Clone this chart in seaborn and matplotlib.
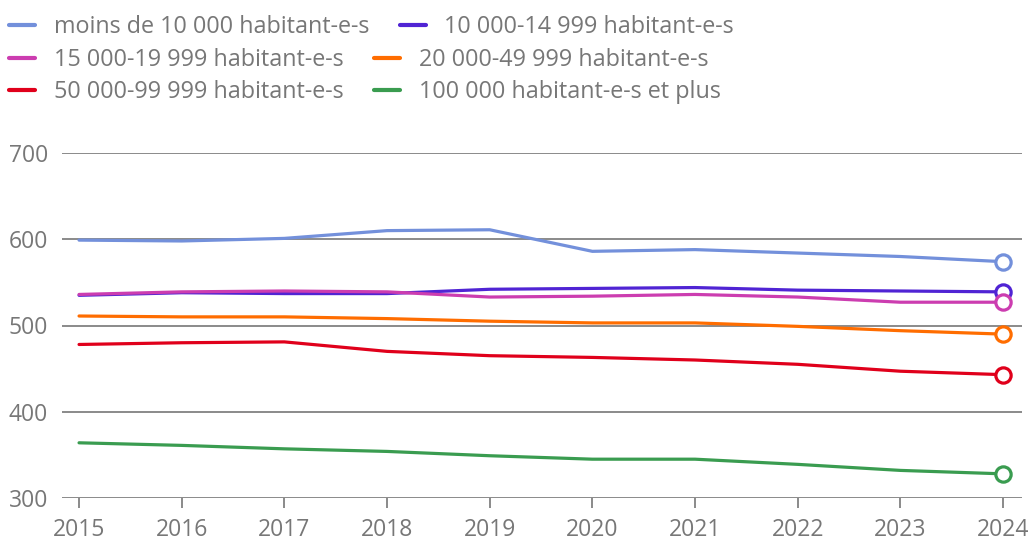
import matplotlib.pyplot as plt
import matplotlib.lines as mlines
import seaborn as sns
import pandas as pd

# Données
annees = [2015, 2016, 2017, 2018, 2019, 2020, 2021, 2022, 2023, 2024]
categories = [
    "moins de 10 000 habitant-e-s",
    "10 000-14 999 habitant-e-s",
    "15 000-19 999 habitant-e-s",
    "20 000-49 999 habitant-e-s",
    "50 000-99 999 habitant-e-s",
    "100 000 habitant-e-s et plus",
]
moins_10000 = [599, 598, 601, 610, 611, 586, 588, 584, 580, 574]
de_10000_14999 = [535, 538, 537, 537, 542, 543, 544, 541, 540, 539]
de_15000_19999 = [536, 539, 540, 539, 533, 534, 536, 533, 527, 527]
de_20000_49999 = [511, 510, 510, 508, 505, 503, 503, 499, 494, 490]
de_50000_99999 = [478, 480, 481, 470, 465, 463, 460, 455, 447, 443]
plus_100000 = [364, 361, 357, 354, 349, 345, 345, 339, 332, 328]
couleurs = ["#7390db", "#5024d4", "#cc3db0", "#ff6d00", "#e0001b", "#3a9c50"]

series = [moins_10000, de_10000_14999, de_15000_19999,
          de_20000_49999, de_50000_99999, plus_100000]

rows = []
for cat, vals in zip(categories, series):
    for a, v in zip(annees, vals):
        rows.append({"annee": a, "valeur": v, "categorie": cat})
df = pd.DataFrame(rows)

sns.set_theme(style="white")
plt.rcParams["font.family"] = ["Open Sans", "DejaVu Sans"]
gris = "#777777"

fig = plt.figure(figsize=(10.32, 5.41), dpi=100)
ax = fig.add_axes([62 / 1032, 1 - 498 / 541, 960 / 1032, 345 / 541])

palette = dict(zip(categories, couleurs))
sns.lineplot(data=df, x="annee", y="valeur", hue="categorie",
             palette=palette, linewidth=2.3, ax=ax, legend=False)

# cercles vides sur la dernière année
for cat in categories:
    last = df[(df["categorie"] == cat) & (df["annee"] == annees[-1])]
    ax.plot(last["annee"], last["valeur"], marker="o", markersize=11,
            markerfacecolor="white", markeredgecolor=palette[cat],
            markeredgewidth=2.3, linestyle="none", zorder=5, clip_on=False)

ax.set_xlim(2014.834, 2024.185)
ax.set_ylim(300, 700)
ax.set_yticks([300, 400, 500, 600, 700])
ax.set_xticks(annees)
ax.grid(axis="y", color="#8a8a8a", linewidth=1.4)
ax.set_axisbelow(True)
for s in ax.spines.values():
    s.set_visible(False)
ax.tick_params(axis="y", length=0, pad=10, labelsize=16.5, labelcolor=gris)
ax.tick_params(axis="x", bottom=True, length=7, width=1.4, color="#8a8a8a",
               pad=7.5, labelsize=16.5, labelcolor=gris)
ax.set_xlabel("")
ax.set_ylabel("")

handles = [mlines.Line2D([], [], color=c, linewidth=3) for c in couleurs]
leg_kw = dict(frameon=False, ncol=2, fontsize=16.8, handlelength=1.12,
              handletextpad=0.8, borderaxespad=0, borderpad=0,
              labelcolor=gris, columnspacing=1.3)
leg1 = fig.legend(handles[:2], categories[:2], loc="upper left",
                  bbox_to_anchor=(9 / 1032, 1 - 15 / 541), **leg_kw)
# matplotlib remplit par colonne : on réordonne pour garder l'ordre des lignes
ordre = [2, 4, 3, 5]
leg2 = fig.legend([handles[i] for i in ordre], [categories[i] for i in ordre],
                  loc="upper left", bbox_to_anchor=(9 / 1032, 1 - 48 / 541),
                  labelspacing=0.33, **leg_kw)

plt.savefig("out.png", dpi=100)
